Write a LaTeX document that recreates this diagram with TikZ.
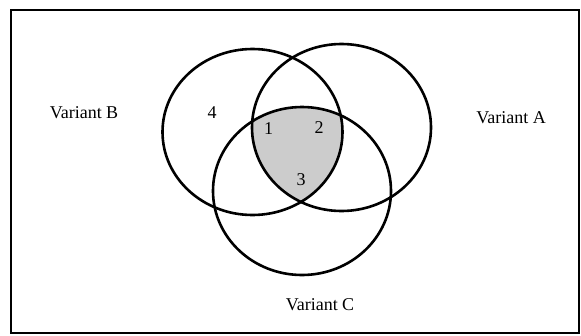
\documentclass[tikz,border=0pt]{standalone}
\usepackage{fontspec}
\setmainfont{Liberation Serif}
\definecolor{vennfill}{RGB}{204,204,204}
\tikzset{
  venn/.style={draw=black, line width=2.6pt},
  lbl/.style={inner sep=0pt, font=\fontsize{18}{21}\selectfont},
  frame/.style={draw=black, line width=2pt}
}
\begin{document}
\begin{tikzpicture}[x=1pt, y=-1pt]
\useasboundingbox (0,0) rectangle (581,335);
\draw[frame] (11,9.5) rectangle (579,333);
\coordinate (cB) at (252.5,132);
\coordinate (cA) at (341.5,127.5);
\coordinate (cC) at (302,191);
\begin{scope}
  \clip (cA) ellipse [x radius=89.5, y radius=83.5];
  \clip (cB) ellipse [x radius=90, y radius=83];
  \fill[vennfill] (cC) ellipse [x radius=89, y radius=84];
\end{scope}
\draw[venn] (cB) ellipse [x radius=90, y radius=83];
\draw[venn] (cA) ellipse [x radius=89.5, y radius=83.5];
\draw[venn] (cC) ellipse [x radius=89, y radius=84];
\node[lbl] (vb) at (84,113) {Variant B};
\node[lbl] (va) at (511,118) {Variant A};
\node[lbl] (vc) at (320,305) {Variant C};
\node[lbl] (n4) at (212,113) {4};
\node[lbl] (n1) at (268.5,129) {1};
\node[lbl] (n2) at (319,128) {2};
\node[lbl] (n3) at (301,180) {3};
\end{tikzpicture}
\end{document}
